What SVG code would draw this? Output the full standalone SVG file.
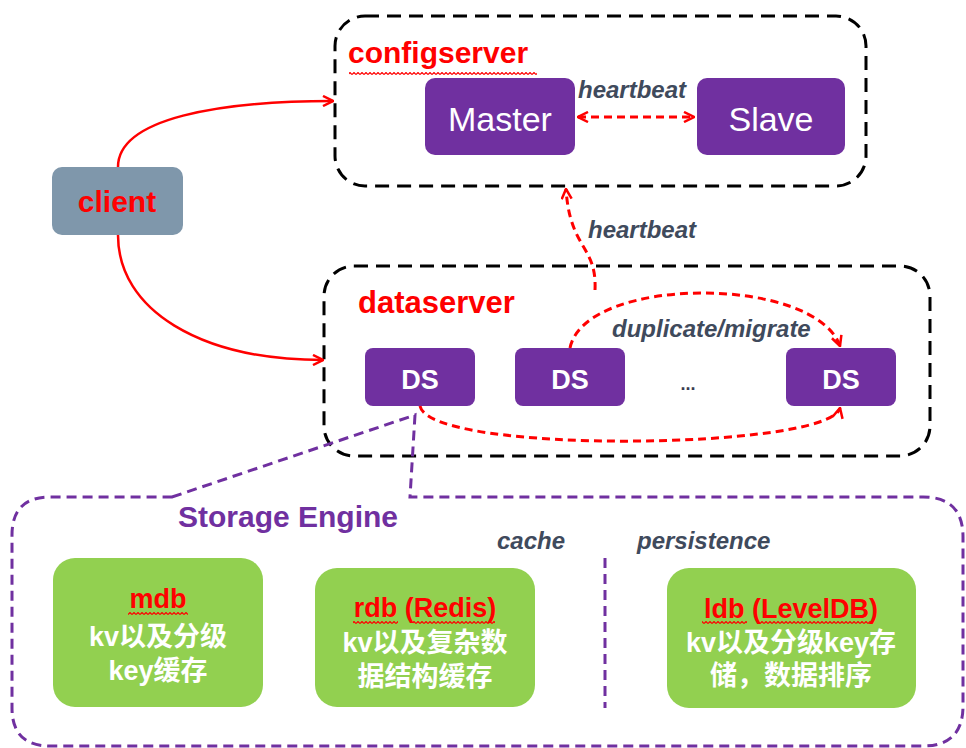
<svg xmlns="http://www.w3.org/2000/svg" width="966" height="748" viewBox="0 0 966 748">
<style>
.grp{fill:none;stroke:#000;stroke-width:3;stroke-dasharray:14 8}
.stg{fill:none;stroke:#7030a0;stroke-width:3;stroke-dasharray:10 6}
.pur{fill:#7030a0}
.green{fill:#92d050}
.solid{fill:none;stroke:#ff0000;stroke-width:2.5}
.dash{fill:none;stroke:#ff0000;stroke-width:3;stroke-dasharray:8 5}
.title{font-family:"Liberation Sans",Arial,sans-serif;font-weight:bold;fill:#ff0000}
.white{font-family:"Liberation Sans",Arial,sans-serif;fill:#ffffff;text-anchor:middle}
.lbl{font-family:"Liberation Sans",Arial,sans-serif;font-weight:bold;font-style:italic;font-size:24px;fill:#3f4a5c}
.cn{font-family:"Liberation Sans","Noto Sans CJK SC",sans-serif;font-weight:bold;font-size:27px;fill:#ffffff;text-anchor:middle}
.name{font-family:"Liberation Sans",Arial,sans-serif;font-weight:bold;font-size:27px;fill:#ff0000;text-anchor:middle}
</style>
<defs>
<marker id="arr" viewBox="0 0 12 12" refX="11" refY="6" markerWidth="12" markerHeight="12" markerUnits="userSpaceOnUse" orient="auto-start-reverse">
<path d="M1,1 L11,6 L1,11" fill="none" stroke="#ff0000" stroke-width="2.5"/>
</marker>
<pattern id="squig" x="0" y="0" width="4" height="3" patternUnits="userSpaceOnUse">
<path d="M0,2.5 L2,0.5 L4,2.5" fill="none" stroke="#ff0000" stroke-width="1.2"/>
</pattern>
</defs>
<rect width="966" height="748" fill="#ffffff"/>

<g id="configserver">
<rect class="grp" x="335" y="16" width="531" height="170" rx="30"/>
<text class="title" x="348" y="63" font-size="30">configserver</text>
<rect x="349" y="72" width="188" height="3" fill="url(#squig)"/>
</g>
<g id="master">
<rect class="pur" x="425" y="78" width="150" height="77" rx="10"/>
<text class="white" x="500" y="131" font-size="34">Master</text>
</g>
<g id="slave">
<rect class="pur" x="697" y="78" width="148" height="77" rx="10"/>
<text class="white" x="771" y="131" font-size="34">Slave</text>
</g>

<g id="client">
<rect x="52" y="167" width="131" height="68" rx="10" fill="#7f97ab"/>
<text class="title" x="117" y="212" font-size="30" text-anchor="middle">client</text>
</g>

<g id="dataserver">
<rect class="grp" x="324" y="266" width="606" height="190" rx="30"/>
<text class="title" x="358" y="313" font-size="31">dataserver</text>
</g>
<g id="ds1">
<rect class="pur" x="365" y="348" width="110" height="58" rx="8"/>
<text class="white" x="420" y="389" font-size="27" font-weight="bold">DS</text>
</g>
<g id="ds2">
<rect class="pur" x="515" y="348" width="110" height="58" rx="8"/>
<text class="white" x="570" y="389" font-size="27" font-weight="bold">DS</text>
</g>
<text x="688" y="390" font-family="Liberation Sans,Arial,sans-serif" font-weight="bold" font-size="18" fill="#3c3c50" text-anchor="middle">...</text>
<g id="ds3">
<rect class="pur" x="786" y="348" width="110" height="58" rx="8"/>
<text class="white" x="841" y="389" font-size="27" font-weight="bold">DS</text>
</g>

<g id="storage-engine">
<path class="stg" d="M172,497 L415,415 L410,497 L923,497 Q963,497 963,537 L963,706 Q963,746 923,746 L50,746 Q12,746 12,708 L12,535 Q12,497 50,497 Z"/>
<text x="178" y="527" font-family="Liberation Sans,Arial,sans-serif" font-weight="bold" font-size="30" fill="#7030a0">Storage Engine</text>
<text class="lbl" x="497" y="549">cache</text>
<text class="lbl" x="637" y="549">persistence</text>
<line class="stg" x1="605" y1="558" x2="605" y2="708"/>
</g>
<g id="mdb">
<rect class="green" x="53" y="558" width="210" height="149" rx="22"/>
<text class="name" x="158" y="608">mdb</text>
<rect x="128" y="612" width="60" height="3" fill="url(#squig)"/>
<text class="cn" x="158" y="646">kv以及分级</text>
<text class="cn" x="158" y="680">key缓存</text>
</g>
<g id="rdb">
<rect class="green" x="315" y="568" width="220" height="139" rx="22"/>
<text class="name" x="425" y="617">rdb (Redis)</text>
<rect x="353" y="621" width="45" height="3" fill="url(#squig)"/>
<rect x="413" y="621" width="82" height="3" fill="url(#squig)"/>
<text class="cn" x="425" y="652">kv以及复杂数</text>
<text class="cn" x="425" y="686">据结构缓存</text>
</g>
<g id="ldb">
<rect class="green" x="667" y="568" width="249" height="140" rx="22"/>
<text class="name" x="791" y="618">ldb (LevelDB)</text>
<rect x="702" y="621" width="45" height="3" fill="url(#squig)"/>
<rect x="758" y="621" width="114" height="3" fill="url(#squig)"/>
<text class="cn" x="791" y="652">kv以及分级key存</text>
<text class="cn" x="791" y="685">储，数据排序</text>
</g>

<g id="connectors">
<path class="solid" d="M118,167 C118,118 220,101 333,101" marker-end="url(#arr)"/>
<path class="solid" d="M118,235 C118,310 200,360 323,360" marker-end="url(#arr)"/>
<line class="dash" x1="578" y1="117" x2="694" y2="117" marker-start="url(#arr)" marker-end="url(#arr)"/>
<text class="lbl" x="578" y="98">heartbeat</text>
<path class="dash" d="M595,290 C597,245 570,250 566,189" marker-end="url(#arr)"/>
<text class="lbl" x="588" y="238">heartbeat</text>
<path class="dash" d="M570,348 C585,275 815,275 840,346" marker-end="url(#arr)"/>
<text class="lbl" x="612" y="337">duplicate/migrate</text>
<path class="dash" d="M420,406 C430,455 830,450 840,408" marker-end="url(#arr)"/>
</g>
</svg>
